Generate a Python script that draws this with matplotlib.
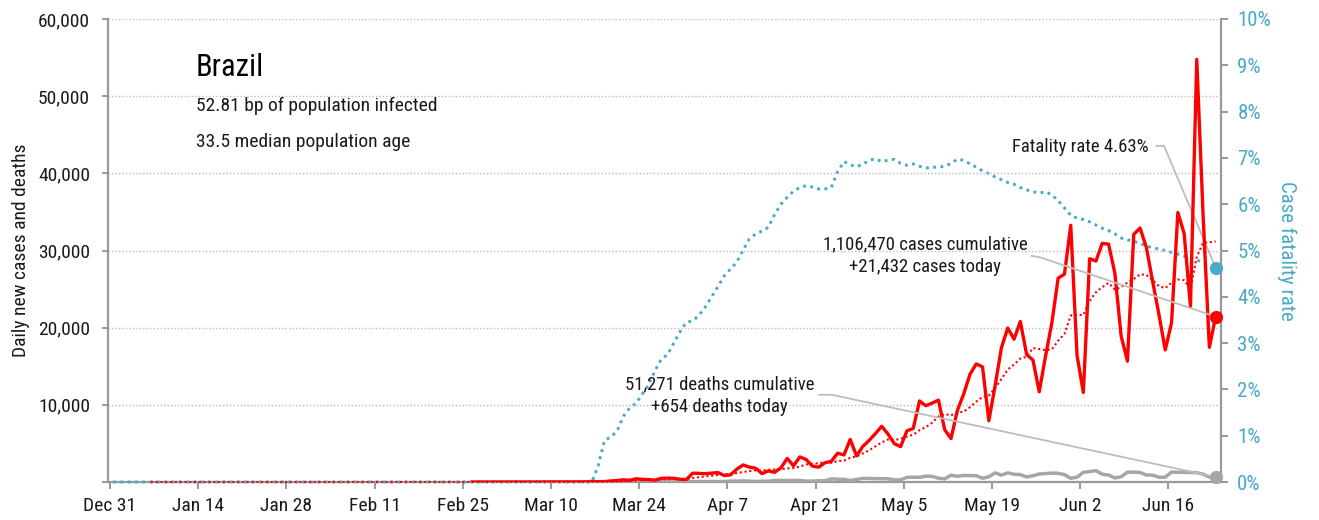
import numpy as np
import pandas as pd
import matplotlib
matplotlib.use("Agg")
import matplotlib.pyplot as plt
from matplotlib import font_manager as fm

names = {f.name for f in fm.fontManager.ttflist}
cands = ["Liberation Sans Narrow", "Roboto Condensed", "Liberation Sans", "DejaVu Sans"]
fam = [c for c in cands if c in names] or ["DejaVu Sans"]
plt.rcParams["font.family"] = fam

# ---------------- data ----------------
n_days = 176                      # day 0 = Dec 31 ... day 175 = Jun 23
cases_start = 57                  # first reported case
cases = [1, 0, 0, 0, 1, 0, 0, 0, 0, 6, 5, 6, 0, 7, 9, 18, 25, 21, 23, 79,
         34, 57, 137, 193, 283, 224, 418, 345, 310, 232, 482, 502, 487, 352, 323,
         1138, 1119, 1074, 1146, 1222, 852, 926, 1661, 2210, 1930, 1781, 1089, 1442, 1261,
         1832, 3058, 2105, 3257, 2917, 2055, 1927, 2498, 2678, 3735, 3503, 5514, 3379, 4613,
         5385, 6276, 7218, 6209, 4970, 4588, 6633, 6935, 10503, 9888, 10222, 10611, 6760,
         5632, 9258, 11385, 13944, 15305, 14919, 7938, 12500, 17408, 19951, 18508, 20803,
         16508, 15813, 11687, 16324, 20599, 26417, 26928, 33274, 16409, 11598, 28936, 28633,
         30925, 30830, 27075, 18912, 15654, 32091, 32913, 30412, 25982, 21704, 17110, 20647,
         34918, 32188, 22765, 54771, 34666, 17459, 21432]

deaths_start = 77
deaths = [0, 1, 3, 2, 5, 7, 7, 9, 12, 11, 20, 15, 22, 23, 42, 40, 58, 60, 73, 54, 67,
          114, 133, 141, 115, 68, 99, 105, 204, 204, 188, 217, 206, 115, 113, 166, 165,
          407, 357, 346, 189, 338, 474, 449, 435, 428, 421, 275, 296, 600, 615, 610, 751,
          730, 496, 396, 881, 749, 844, 824, 816, 485, 674, 1179, 888, 1188, 1001, 965,
          653, 807, 1039, 1086, 1156, 1124, 956, 480, 623, 1262, 1349, 1473, 1005, 904,
          525, 679, 1272, 1274, 1239, 909, 892, 612, 627, 1282, 1269, 1250, 1238, 1206,
          1022, 641, 654]

cfr_start = 76                    # case fatality rate (%)
cfr = [0.0, 0.35, 0.9, 0.97, 1.1, 1.42, 1.6, 1.7, 1.9, 2.1, 2.4, 2.65, 2.75, 3.0, 3.25,
       3.45, 3.48, 3.6, 3.78, 4.0, 4.22, 4.45, 4.6, 4.75, 5.01, 5.25, 5.36, 5.42, 5.5,
       5.78, 6.0, 6.15, 6.28, 6.36, 6.4, 6.37, 6.33, 6.33, 6.36, 6.7, 6.92, 6.85, 6.81,
       6.86, 6.95, 6.98, 6.92, 6.95, 6.97, 6.88, 6.84, 6.87, 6.82, 6.78, 6.80, 6.80, 6.82,
       6.88, 6.97, 6.95, 6.87, 6.80, 6.72, 6.66, 6.59, 6.53, 6.47, 6.43, 6.36, 6.31, 6.27,
       6.24, 6.27, 6.20, 6.08, 5.92, 5.76, 5.70, 5.67, 5.62, 5.55, 5.48, 5.43, 5.36, 5.27,
       5.23, 5.20, 5.15, 5.10, 5.06, 5.03, 5.00, 4.96, 4.92, 4.88, 4.85, 4.80, 4.73, 4.68,
       4.63]

tick_days = [0, 14, 28, 42, 56, 70, 84, 98, 112, 126, 140, 154, 168]
tick_labels = ["Dec 31", "Jan 14", "Jan 28", "Feb 11", "Feb 25", "Mar 10", "Mar 24",
               "Apr 7", "Apr 21", "May 5", "May 19", "Jun 2", "Jun 16"]

country = "Brazil"
info1 = "52.81 bp of population infected"
info2 = "33.5 median population age"
cum_cases, today_cases = "1,106,470", "+21,432"
cum_deaths, today_deaths = "51,271", "+654"
fatality = "4.63%"

# ---------------- series ----------------
cases_full = np.zeros(n_days)
cases_full[cases_start:cases_start + len(cases)] = cases
avg7 = pd.Series(cases_full).rolling(7).mean().to_numpy()
cases_line = cases_full.copy()
cases_line[:cases_start] = np.nan
deaths_full = np.full(n_days, np.nan)
deaths_full[deaths_start:deaths_start + len(deaths)] = deaths
cfr_full = np.zeros(n_days)
cfr_full[cfr_start:cfr_start + len(cfr)] = cfr

x = np.arange(n_days) + 0.5

RED = "#ff0000"
BLUE = "#4aaac8"
GREY = "#a6a6a6"
AX = "#999999"
TXT = "#1a1a1a"
LEAD = "#bdbdbd"

fig = plt.figure(figsize=(13.19, 5.20), dpi=100)
ax = fig.add_axes([108 / 1319, 38 / 520, 1112.7 / 1319, 463 / 520])
ax2 = ax.twinx()
ax.set_zorder(ax2.get_zorder() + 1)
ax.patch.set_visible(False)

# blue CFR (right axis)
ax2.plot(x, cfr_full, color=BLUE, lw=2.1, ls=(0, (1, 1.5)), zorder=3, clip_on=False)
ax2.set_ylim(0, 10)

# cases, deaths
ax.plot(x, deaths_full, color=GREY, lw=2.5, zorder=2, solid_joinstyle="round")
ax.plot(x, cases_line, color=RED, lw=2.4, zorder=2.2, solid_joinstyle="round")
ax.plot(x, avg7, color=RED, lw=1.5, ls=(0, (1, 1.3)), zorder=3, clip_on=False)
ax.set_ylim(0, 60000)
ax.set_xlim(-0.3, 176.3)

# grid
for v in range(10000, 60001, 10000):
    ax.axhline(v, color="#bbbbbb", lw=1.0, ls=(0, (1, 1.5)), zorder=0.5)

# axes styling: bottom spine drawn by the lower (right-axis) axes so that
# the dotted zero-level lines sit on top of it
for a in (ax, ax2):
    a.spines["top"].set_visible(False)
ax.spines["left"].set_color(AX)
ax.spines["left"].set_linewidth(1.6)
ax.spines["bottom"].set_visible(False)
ax.spines["right"].set_visible(False)
ax2.spines["left"].set_visible(False)
ax2.spines["bottom"].set_color(AX)
ax2.spines["bottom"].set_linewidth(1.6)
ax2.spines["right"].set_color(AX)
ax2.spines["right"].set_linewidth(1.6)

ax.set_xticks(tick_days)
ax.set_xticklabels(tick_labels)
yt = list(range(0, 60001, 10000))
ax.set_yticks(yt)
ax.set_yticklabels(["" if v == 0 else f"{v:,}" for v in yt])
ax2.set_yticks(range(0, 11))
ax2.set_yticklabels([f"{v}%" for v in range(0, 11)])

fs = 14
afs = 13.5
ax.tick_params(axis="x", colors=AX, labelcolor=TXT, labelsize=fs, length=5, width=1.4, pad=6)
ax.tick_params(axis="y", colors=AX, labelcolor=TXT, labelsize=fs, length=4, width=1.4, pad=9)
ax2.tick_params(axis="y", colors=AX, labelcolor=BLUE, labelsize=15, length=5, width=1.4, pad=7)

ax.set_ylabel("Daily new cases and deaths", fontsize=fs, color=TXT, labelpad=6)
ax2.set_ylabel("Case fatality rate", fontsize=15, color=BLUE, rotation=270, labelpad=18)

# header text
ax.text(0.079, 0.877, country, transform=ax.transAxes, fontsize=22, color="black",
        ha="left", va="baseline")
ax.text(0.079, 0.801, info1, transform=ax.transAxes, fontsize=fs, color=TXT,
        ha="left", va="baseline")
ax.text(0.079, 0.7235, info2, transform=ax.transAxes, fontsize=fs, color=TXT,
        ha="left", va="baseline")

# end dots
xe = x[-1]
ax.plot([xe], [cases_full[-1]], "o", color=RED, ms=8.5, zorder=6, clip_on=False)
ax.plot([xe], [deaths_full[-1]], "o", color=GREY, ms=8.5, zorder=6, clip_on=False)
ax.plot([xe], [cfr_full[-1]], "o", color=BLUE, ms=8.5, zorder=6, clip_on=False,
        transform=ax2.transData)

# annotations
ax.text(164.9, 43400, f"Fatality rate {fatality}", fontsize=afs, color=TXT, ha="right", va="center")
ax2.plot([166.1, 167.3, xe], [7.26, 7.26, cfr_full[-1]], color=LEAD, lw=1.3, zorder=4)

ax.text(129.4, 29300, f"{cum_cases} cases cumulative\n{today_cases} cases today",
        fontsize=afs, color=TXT, ha="center", va="center", linespacing=1.35)
ax.plot([146.3, 147.7, xe], [29300, 29100, cases_full[-1]], color=LEAD, lw=1.3, zorder=4)

ax.text(96.8, 11200, f"{cum_deaths} deaths cumulative\n{today_deaths} deaths today",
        fontsize=afs, color=TXT, ha="center", va="center", linespacing=1.35)
ax.plot([112.6, 114.6, xe], [11300, 11300, deaths_full[-1]], color=LEAD, lw=1.3, zorder=4)

fig.savefig("out.png", dpi=100)
